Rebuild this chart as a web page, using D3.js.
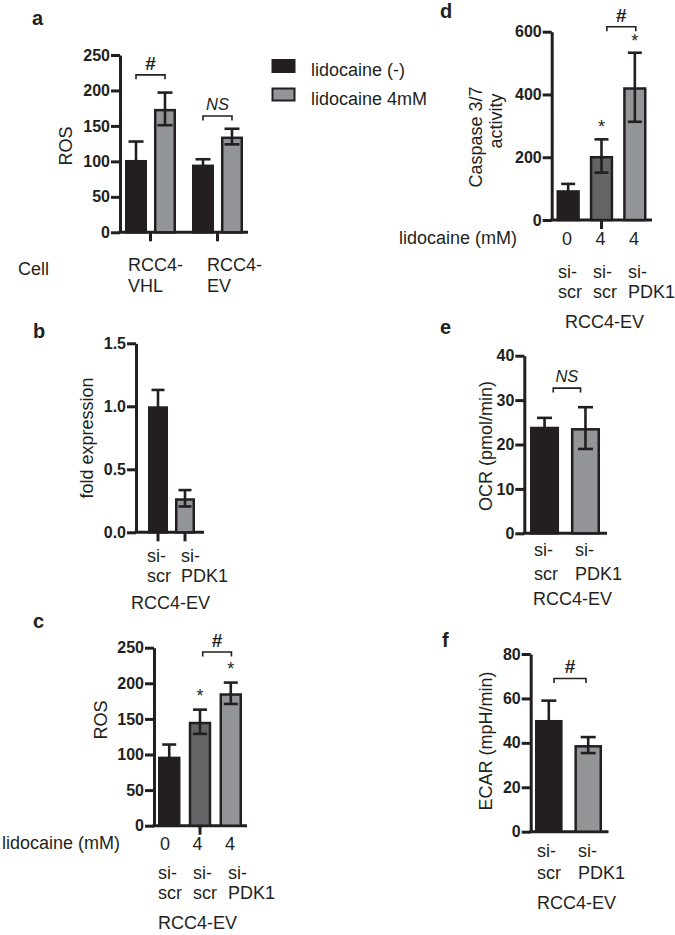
<!DOCTYPE html>
<html><head><meta charset="utf-8">
<script src="https://cdn.jsdelivr.net/npm/d3@7"></script>
<style>
body{margin:0;background:#fff}
svg{display:block}
text{font-family:"Liberation Sans",Arial,Helvetica,sans-serif;fill:#231f20}
</style>
</head><body>
<svg id="chart" width="675" height="935"></svg>
<script>
// ---------------- DATA ----------------
// Panel a
const aCategories = ["RCC4-VHL", "RCC4-EV"];
const aSeries = ["lidocaine (-)", "lidocaine 4mM"];
const aControl = [102, 95.5];
const aControlSem = [26, 7.5];
const aTreated = [174, 135];
const aTreatedSem = [23, 11];
const aTicks = [0, 50, 100, 150, 200, 250];
// Panel b
const bCategories = ["si-\nscr", "si-\nPDK1"];
const bValues = [1.0, 0.27];
const bSem = [0.13, 0.065];
const bTicks = [0, 0.5, 1.0, 1.5];
// Panel c
const cCategories = ["si-\nscr", "si-\nscr", "si-\nPDK1"];
const cLidocaine = ["0", "4", "4"];
const cValues = [97, 146, 186];
const cSem = [17, 17, 15];
const cTicks = [0, 50, 100, 150, 200, 250];
// Panel d
const dCategories = ["si-\nscr", "si-\nscr", "si-\nPDK1"];
const dLidocaine = ["0", "4", "4"];
const dValues = [95, 204, 423];
const dSem = [20, 53, 110];
const dTicks = [0, 200, 400, 600];
// Panel e
const eCategories = ["si-\nscr", "si-\nPDK1"];
const eValues = [24, 23.7];
const eSem = [2, 4.7];
const eTicks = [0, 10, 20, 30, 40];
// Panel f
const fCategories = ["si-\nscr", "si-\nPDK1"];
const fValues = [50.3, 39];
const fSem = [8.7, 3.6];
const fTicks = [0, 20, 40, 60, 80];

// ---------------- STYLE ----------------
const INK = "#231f20", MID = "#636466", LIGHT = "#939598";
const FONT = '"Liberation Sans",Arial,Helvetica,sans-serif';
const svg = d3.select("#chart");

function yAxis(g, y, ticks, fmt, x) {
  const ax = d3.axisLeft(y).tickValues(ticks).tickFormat(fmt).tickSize(9).tickSizeOuter(0).tickPadding(1);
  const gg = g.append("g").attr("transform", `translate(${x},0)`).call(ax)
    .attr("font-family", FONT).attr("font-size", 16).attr("font-weight", "bold");
  gg.select(".domain").attr("stroke", INK).attr("stroke-width", 3);
  gg.selectAll(".tick line").attr("stroke", INK).attr("stroke-width", 3);
  gg.selectAll(".tick text").attr("fill", INK).style("font-size", "16px").style("font-weight", "bold")
    .style("font-family", FONT);
}
function xAxisLine(g, x0, x1, y0, tickXs) {
  g.append("line").attr("x1", x0 - 1.5).attr("x2", x1).attr("y1", y0).attr("y2", y0)
    .attr("stroke", INK).attr("stroke-width", 3);
  tickXs.forEach(t => g.append("line").attr("x1", t).attr("x2", t).attr("y1", y0).attr("y2", y0 + 9)
    .attr("stroke", INK).attr("stroke-width", 3));
}
function bar(g, x, w, y, v, s, fill, cap) {
  g.append("rect").attr("x", x + 1.25).attr("width", w - 2.5)
    .attr("y", y(v) + 1.25).attr("height", y(0) - y(v) - 1.25)
    .attr("fill", fill).attr("stroke", INK).attr("stroke-width", 2.5);
  const cx = x + w / 2;
  const e = g.append("g").attr("stroke", INK).attr("stroke-width", 2.6);
  e.append("line").attr("x1", cx).attr("x2", cx).attr("y1", y(v + s)).attr("y2", y(v - s));
  e.append("line").attr("x1", cx - cap / 2).attr("x2", cx + cap / 2).attr("y1", y(v + s)).attr("y2", y(v + s));
  e.append("line").attr("x1", cx - cap / 2).attr("x2", cx + cap / 2).attr("y1", y(v - s)).attr("y2", y(v - s));
}
function bracket(g, x1, x2, yb, label, italic) {
  g.append("path").attr("d", `M${x1},${yb + 4.5}V${yb}H${x2}V${yb + 4.5}`)
    .attr("fill", "none").attr("stroke", INK).attr("stroke-width", 1.6);
  const t = g.append("text").attr("x", (x1 + x2) / 2).attr("y", yb - (italic ? 6 : 5))
    .attr("text-anchor", "middle").text(label);
  if (italic) t.style("font-size", "16.5px").style("font-style", "italic");
  else t.style("font-size", "19px").style("font-weight", "bold");
}
function star(g, x, yTop) {
  g.append("text").attr("x", x).attr("y", yTop + 4).attr("text-anchor", "middle")
    .style("font-size", "18px").text("*");
}
function rotLabel(g, lines) {
  lines.forEach(l => g.append("text").attr("transform", `translate(${l.bx},${l.cy}) rotate(-90)`)
    .attr("text-anchor", "middle").style("font-size", "18px").text(l.t));
}
function txt(g, x, y, t, anchor, size, weight) {
  return g.append("text").attr("x", x).attr("y", y).attr("text-anchor", anchor || "start")
    .style("font-size", (size || 18) + "px").style("font-weight", weight || "normal").text(t);
}
function catLabels(g, cats, xs, baselines) {
  cats.forEach((c, i) => c.split("\n").forEach((line, k) => txt(g, xs(i), baselines[k], line)));
}

// ---------------- PANEL A ----------------
{
  const g = svg.append("g");
  const y = d3.scaleLinear().domain([0, 250]).range([232.3, 55]);
  const xg = d3.scaleBand().domain(d3.range(aCategories.length)).range([125, 243]).paddingInner(0.239);
  const xs = d3.scaleBand().domain(d3.range(aSeries.length)).range([0, xg.bandwidth()]).paddingInner(0.24);
  xAxisLine(g, 120, 248, y(0), aCategories.map((c, i) => xg(i) + xg.bandwidth() / 2));
  aCategories.forEach((c, i) => {
    bar(g, xg(i) + xs(0), xs.bandwidth(), y, aControl[i], aControlSem[i], INK, 15);
    bar(g, xg(i) + xs(1), xs.bandwidth(), y, aTreated[i], aTreatedSem[i], LIGHT, 15);
  });
  yAxis(g, y, aTicks, d3.format("d"), 120);
  const c0 = i => xg(i) + xs(0) + xs.bandwidth() / 2, c1 = i => xg(i) + xs(1) + xs.bandwidth() / 2;
  bracket(g, c0(0), c1(0), y(222), "#", false);
  bracket(g, c0(1), c1(1), y(164), "NS", true);
  rotLabel(g, [{ t: "ROS", bx: 72, cy: 146 }]);
  txt(g, 18, 275, "Cell");
  const lx = d3.scalePoint().domain(d3.range(aCategories.length)).range([128, 207]);
  aCategories.forEach((c, i) => {
    const parts = c.split("-");
    txt(g, lx(i), 271, parts[0] + "-");
    txt(g, lx(i), 292, parts[1]);
  });
  // legend
  const colors = [INK, LIGHT];
  aSeries.forEach((s, i) => {
    g.append("rect").attr("x", 272.5).attr("y", 60 + i * 28.5).attr("width", 22).attr("height", 12)
      .attr("fill", colors[i]).attr("stroke", INK).attr("stroke-width", 2);
    txt(g, 311, 76 + i * 28.5, s);
  });
  txt(g, 32, 25, "a", "start", 20, "bold");
}

// ---------------- PANEL B ----------------
{
  const g = svg.append("g");
  const y = d3.scaleLinear().domain([0, 1.5]).range([532.3, 343.3]);
  const x = d3.scaleBand().domain(d3.range(bValues.length)).range([148, 195]).paddingInner(0.259);
  xAxisLine(g, 136, 204, y(0), bValues.map((v, i) => x(i) + x.bandwidth() / 2));
  const fills = [INK, LIGHT];
  bValues.forEach((v, i) => bar(g, x(i), x.bandwidth(), y, v, bSem[i], fills[i], 13));
  yAxis(g, y, bTicks, d3.format(".1f"), 136);
  rotLabel(g, [{ t: "fold expression", bx: 93, cy: 438 }]);
  const lx = d3.scalePoint().domain(d3.range(bCategories.length)).range([147, 181]);
  catLabels(g, bCategories, lx, [562, 582]);
  txt(g, 131, 609, "RCC4-EV");
  txt(g, 33, 338, "b", "start", 20, "bold");
}

// ---------------- PANEL C ----------------
{
  const g = svg.append("g");
  const y = d3.scaleLinear().domain([0, 250]).range([825.7, 647.7]);
  const x = d3.scaleBand().domain(d3.range(cValues.length)).range([158, 242]).paddingInner(0.27);
  const fills = [INK, MID, LIGHT];
  xAxisLine(g, 154, 247, y(0), [x(1) + x.bandwidth() / 2]);
  cValues.forEach((v, i) => bar(g, x(i), x.bandwidth(), y, v, cSem[i], fills[i], 14));
  yAxis(g, y, cTicks, d3.format("d"), 154);
  const cx = i => x(i) + x.bandwidth() / 2;
  star(g, cx(1), y(cValues[1] + cSem[1]) - 12);
  star(g, cx(2), y(cValues[2] + cSem[2]) - 12);
  bracket(g, x(1) + x.bandwidth() * 0.62, x(2) + x.bandwidth() * 0.53, y(244), "#", false);
  rotLabel(g, [{ t: "ROS", bx: 107, cy: 720 }]);
  txt(g, 2, 849, "lidocaine (mM)");
  const nx = d3.scalePoint().domain(d3.range(cLidocaine.length)).range([165, 230]);
  cLidocaine.forEach((t, i) => txt(g, nx(i), 850, t, "middle"));
  const lx = d3.scalePoint().domain(d3.range(cCategories.length)).range([158, 228]);
  catLabels(g, cCategories, lx, [879, 899]);
  txt(g, 158, 929, "RCC4-EV");
  txt(g, 33, 628, "c", "start", 20, "bold");
}

// ---------------- PANEL D ----------------
{
  const g = svg.append("g");
  const y = d3.scaleLinear().domain([0, 600]).range([220, 31.7]);
  const x = d3.scaleBand().domain(d3.range(dValues.length)).range([556.5, 646.5]).paddingInner(0.3);
  const fills = [INK, MID, LIGHT];
  xAxisLine(g, 551.7, 652, y(0), [x(1) + x.bandwidth() / 2]);
  dValues.forEach((v, i) => bar(g, x(i), x.bandwidth(), y, v, dSem[i], fills[i], 14));
  yAxis(g, y, dTicks, d3.format("d"), 551.7);
  const cx = i => x(i) + x.bandwidth() / 2;
  star(g, cx(1), y(dValues[1] + dSem[1]) - 10);
  star(g, cx(2), y(dValues[2] + dSem[2]) - 10);
  bracket(g, x(1) + x.bandwidth() * 0.73, x(2) + x.bandwidth() * 0.54, y(616), "#", false);
  rotLabel(g, [{ t: "Caspase 3/7", bx: 482, cy: 137 }, { t: "activity", bx: 502, cy: 121 }]);
  txt(g, 399, 244, "lidocaine (mM)");
  const nx = d3.scalePoint().domain(d3.range(dLidocaine.length)).range([567, 634]);
  dLidocaine.forEach((t, i) => txt(g, nx(i), 245, t, "middle"));
  const lx = d3.scalePoint().domain(d3.range(dCategories.length)).range([558, 628]);
  catLabels(g, dCategories, lx, [278, 298]);
  txt(g, 565, 328, "RCC4-EV");
  txt(g, 440, 18, "d", "start", 20, "bold");
}

// ---------------- PANEL E ----------------
{
  const g = svg.append("g");
  const y = d3.scaleLinear().domain([0, 40]).range([533.3, 355.7]);
  const x = d3.scaleBand().domain(d3.range(eValues.length)).range([530, 600]).paddingInner(0.29);
  const fills = [INK, LIGHT];
  xAxisLine(g, 524.3, 607, y(0), []);
  eValues.forEach((v, i) => bar(g, x(i), x.bandwidth(), y, v, eSem[i], fills[i], 15));
  yAxis(g, y, eTicks, d3.format("d"), 524.3);
  bracket(g, x(0) + x.bandwidth() * 0.8, x(1) + x.bandwidth() * 0.33, y(32.7), "NS", true);
  rotLabel(g, [{ t: "OCR (pmol/min)", bx: 492, cy: 446 }]);
  const lx = d3.scalePoint().domain(d3.range(eCategories.length)).range([534, 575]);
  catLabels(g, eCategories, lx, [556, 580]);
  txt(g, 533, 605, "RCC4-EV");
  txt(g, 440, 334, "e", "start", 20, "bold");
}

// ---------------- PANEL F ----------------
{
  const g = svg.append("g");
  const y = d3.scaleLinear().domain([0, 80]).range([831.7, 654]);
  const x = d3.scaleBand().domain(d3.range(fValues.length)).range([535, 602]).paddingInner(0.3);
  const fills = [INK, LIGHT];
  xAxisLine(g, 530.7, 608.5, y(0), []);
  fValues.forEach((v, i) => bar(g, x(i), x.bandwidth(), y, v, fSem[i], fills[i], 15));
  yAxis(g, y, fTicks, d3.format("d"), 530.7);
  bracket(g, x(0) + x.bandwidth() * 0.69, x(1) + x.bandwidth() * 0.42, y(69), "#", false);
  rotLabel(g, [{ t: "ECAR (mpH/min)", bx: 492, cy: 741 }]);
  const lx = d3.scalePoint().domain(d3.range(fCategories.length)).range([537, 578]);
  catLabels(g, fCategories, lx, [857, 879]);
  txt(g, 537, 909, "RCC4-EV");
  txt(g, 442, 647, "f", "start", 20, "bold");
}
</script>
</body></html>
